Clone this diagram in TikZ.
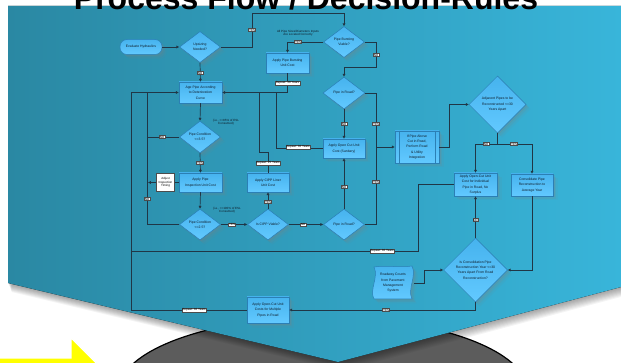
\documentclass[tikz,border=0pt]{standalone}
\usepackage{fontspec}
\setmainfont{Liberation Sans}
\usetikzlibrary{shapes.geometric,arrows.meta,shadows}

\definecolor{panelL}{HTML}{2A88A3}
\definecolor{panelR}{HTML}{38B5DA}
\definecolor{nodeT}{HTML}{46B3EE}
\definecolor{nodeBt}{HTML}{62C9FF}
\definecolor{nodeB}{HTML}{2B7FB5}
\definecolor{ink}{HTML}{0E1A26}
\definecolor{wire}{HTML}{203646}
\definecolor{ovalgray}{HTML}{5C5C5C}
\definecolor{yellowA}{HTML}{FFFF00}

\newcommand\flowfont{\fontsize{3.4}{5.4}\selectfont}
\newcommand\tagfont{\fontsize{3.0}{3.5}\selectfont}

\begin{document}
\begin{tikzpicture}[x=1pt,y=-1pt,
  softshadow/.style={
    drop shadow={opacity=0.2, shadow xshift=1.5pt, shadow yshift=-1.5pt},
    drop shadow={opacity=0.14, shadow xshift=3pt, shadow yshift=-3pt},
    drop shadow={opacity=0.08, shadow xshift=4.5pt, shadow yshift=-4.5pt}},
  proc/.style={rectangle, draw=nodeB, line width=0.5pt, top color=nodeT, bottom color=nodeBt,
    text=ink, font=\flowfont, align=center, inner sep=0pt,
    minimum width=43pt, minimum height=19pt, softshadow},
  pill/.style={proc, rounded corners=7pt, minimum width=42pt, minimum height=15pt},
  dec/.style={diamond, draw=nodeB, line width=0.5pt, top color=nodeT, bottom color=nodeBt,
    text=ink, font=\flowfont, align=center, inner sep=0pt,
    minimum width=41pt, minimum height=31pt, softshadow},
  wired/.style={draw=wire, line width=0.7pt},
  flow/.style={wired, -{Triangle[length=2.8pt,width=2.6pt]}},
  tag/.style={fill=white, draw=gray!60!black, line width=0.2pt, inner sep=0.5pt,
    font=\tagfont, text=black},
  memo/.style={font=\tagfont, text=ink, align=center, inner sep=0pt},
  notebox/.style={fill=white, draw=gray!60!black, line width=0.2pt, inner sep=0.3pt,
    font=\tagfont, text=black, align=center, minimum width=18pt, minimum height=18pt}
]
\useasboundingbox (0,0) rectangle (621,363);
\clip (0,0) rectangle (621,363);
\fill[white] (0,0) rectangle (621,363);

% yellow block arrow in the lower left corner
\fill[yellowA, draw=white, line width=1pt]
  (-20,358) -- (71,358) -- (71,338) -- (108,375) -- (71,412) -- (71,392) -- (-20,392) -- cycle;

% grey oval under the panel
\filldraw[fill=ovalgray, draw=black, line width=1.2pt] (323,392) ellipse [x radius=205, y radius=75];

% soft shadow of the chevron panel
\foreach \i in {1,...,9}
  \fill[black, opacity=0.045, xshift=0.4*\i pt, yshift=-\i pt]
    (8,6) -- (621,6) -- (621,287) -- (338,362) -- (8,283) -- cycle;

% chevron panel
\fill[left color=panelL, right color=panelR]
  (8,6) -- (621,6) -- (621,287) -- (338,362) -- (8,283) -- cycle;

% title
\node[anchor=base, font=\fontsize{32}{32}\selectfont\bfseries, text=black, inner sep=0pt]
  (title) at (306,10) {Process Flow / Decision-Rules};

% ---- process steps and decisions ----
\node[pill] (eval) at (141,47) {Evaluate Hydraulics};
\node[dec] (ups) at (200,47) {Upsizing\\Needed?};
\node[dec] (burst) at (344,42) {Pipe Bursting\\Viable?};
\node[proc, minimum height=20pt] (burstbox) at (287.5,63) {Apply Pipe Bursting\\Unit Cost};
\node[dec, minimum width=42pt, minimum height=32pt] (road1) at (344,93) {Pipe in Road?};
\node[proc, minimum height=21pt] (age) at (200.5,92.5) {Age Pipe According\\to Deterioration\\Curve};
\node[dec, minimum height=32pt] (c35) at (200,137) {Pipe Condition\\<=3.5?};
\node[proc] (insp) at (200.5,182.5) {Apply Pipe\\Inspection Unit Cost};
\node[dec] (c25) at (200,224.5) {Pipe Condition\\<=2.5?};
\node[dec] (cippq) at (268,224.5) {Is CIPP Viable?};
\node[proc, minimum width=42pt] (cipp) at (268,182.5) {Apply CIPP Liner\\Unit Cost};
\node[dec] (road2) at (344,224.5) {Pipe in Road?};
\node[proc, minimum width=42pt] (opencut) at (344,148.5) {Apply Open Cut Unit\\Cost (Sanitary)};
\node[proc, minimum width=44pt, minimum height=32pt] (integ) at (417,147) {If Pipe Above\\Cut in Road,\\Perform Road\\\& Utility\\Integration};
\draw[nodeB, line width=0.4pt] ([xshift=4pt]integ.north west) -- ([xshift=4pt]integ.south west)
  ([xshift=-4pt]integ.north east) -- ([xshift=-4pt]integ.south east);
\node[dec, minimum width=57pt, minimum height=57pt] (adj) at (497.5,104.5) {Adjacent Pipes to be\\Reconstructed <=30\\Years Apart};
\node[proc, minimum width=43pt, minimum height=23pt] (ocr) at (475.5,184.5) {Apply Open-Cut Unit\\Cost for Individual\\Pipe in Road, No\\Surplus};
\node[proc, minimum width=42pt, minimum height=22pt] (cons) at (532,185) {Consolidate Pipe\\Reconstruction to\\Average Year};
\node[dec, minimum width=64pt, minimum height=64pt] (iscons) at (475.5,270) {Is Consolidation Pipe\\Reconstruction Year <=30\\Years Apart From Road\\Reconstruction?};
\node[proc, minimum width=42pt, minimum height=26pt] (multi) at (268,310) {Apply Open-Cut Unit\\Costs for Multiple\\Pipes in Road};

% stored-data shape for the pavement system input
\path[draw=nodeB, line width=0.5pt, top color=nodeT, bottom color=nodeBt, softshadow]
  (374,267) .. controls (387,265) and (399,268) .. (412,266)
  .. controls (417,276) and (407,289) .. (412,299)
  -- (374,299) .. controls (369,290) and (379,277) .. (374,267) -- cycle;
\node[memo, font=\flowfont, minimum width=42pt, minimum height=32pt] (roadway) at (393,283)
  {Roadway Counts\\from Pavement\\Management\\System};

% ---- connectors ----
\draw[flow] (eval) -- (ups);
\draw[flow] (ups.east) -| (252,13) -| (burst.north);
\draw[flow] (ups.south) -- (age.north);
\draw[flow] (burst.west) -| (burstbox.north);
\draw[flow] (burst.east) -- (376,42) -- (376,67) -- (344,67) -- (road1.north);
\draw[flow] (burstbox.south) |- (age.east);
\draw[flow] (road1.south) -- (opencut.north);
\draw[flow] (road1.east) -- (376,93) -- (376,147) -- (integ.west);
\draw[wired] (opencut.west) -| (276,92.5);
\draw[flow] (age.south) -- (c35.north);
\draw[wired] (c35.west) -- (147,137);
\draw[flow] (c35.south) -- (insp.north);
\draw[flow] (insp.west) -- (148,182.5);
\draw[flow] (insp.south) -- (c25.north);
\draw[flow] (c25.west) -- (147,224.5) -- (147,92.5) -- (age.west);
\draw[flow] (c25.east) -- (cippq.west);
\draw[flow] (cippq.north) -- (cipp.south);
\draw[flow] (cippq.east) -- (road2.west);
\draw[wired] (cipp.north) -- (268,152) -- (259,152) -- (259,92.5);
\draw[flow] (road2.north) -- (opencut.south);
\draw[wired] (road2.east) -- (376,224.5) -- (376,147);
\draw[flow] (integ.east) -- (449,147) -- (449,104.5) -- (adj.west);
\draw[flow] (adj.south) -- (497.5,144) -| (ocr.north);
\draw[flow] (adj.south) -- (497.5,144) -| (cons.north);
\draw[wired] (ocr.west) -| (418,251) -| (131,92.5) -- (147,92.5);
\draw[flow] (cons.south) |- (iscons.east);
\draw[flow] (iscons.north) -- (ocr.south);
\draw[flow] (iscons.south) |- (multi.east);
\draw[wired] (multi.west) -| (131,251);
\draw[flow] (roadway.east) -- (424,283) |- (iscons.west);

% ---- connector labels ----
\node[tag] (t1) at (252,30) {YES};
\node[tag] (t2) at (200,73) {NO};
\node[tag] (t3) at (298,42) {YES};
\node[tag] (t4) at (376,55) {NO};
\node[tag] (t5) at (287.5,83) {Repeat: 30 Years};
\node[tag] (t6) at (344,124) {NO};
\node[tag] (t7) at (376,124) {YES};
\node[tag] (t8) at (298,147) {Repeat: 30 Years};
\node[tag] (t9) at (162,137) {NO};
\node[tag] (t10) at (200,163) {YES};
\node[notebox] (adjnote) at (165.5,182.5) {Adjust\\Inspection\\Timing};
\node[tag] (t11) at (147,199) {NO};
\node[tag] (t12) at (232,224.5) {YES};
\node[tag] (t13) at (268,202) {YES};
\node[tag] (t14) at (303,224.5) {NO};
\node[tag] (t15) at (268,163) {Repeat: 25 Years};
\node[tag] (t16) at (344,187) {NO};
\node[tag] (t17) at (376,182) {YES};
\node[tag] (t18) at (486,144) {NO};
\node[tag] (t19) at (514,144) {YES};
\node[tag] (t20) at (475.5,220) {NO};
\node[tag] (t21) at (382,251) {Repeat: 30 Years};
\node[tag] (t22) at (386,310) {YES};
\node[tag] (t23) at (194,310) {Repeat: 30 Years};

% ---- free notes ----
\node[memo] (m1) at (298,33) {All Pipe Sizes/Diameters Inputs\\Are Located Correctly};
\node[memo] (m2) at (226,122) {(i.e., >=85\% of ESL\\Consumed)};
\node[memo] (m3) at (227,210) {(i.e., >=100\% of ESL\\Consumed)};
\end{tikzpicture}
\end{document}
